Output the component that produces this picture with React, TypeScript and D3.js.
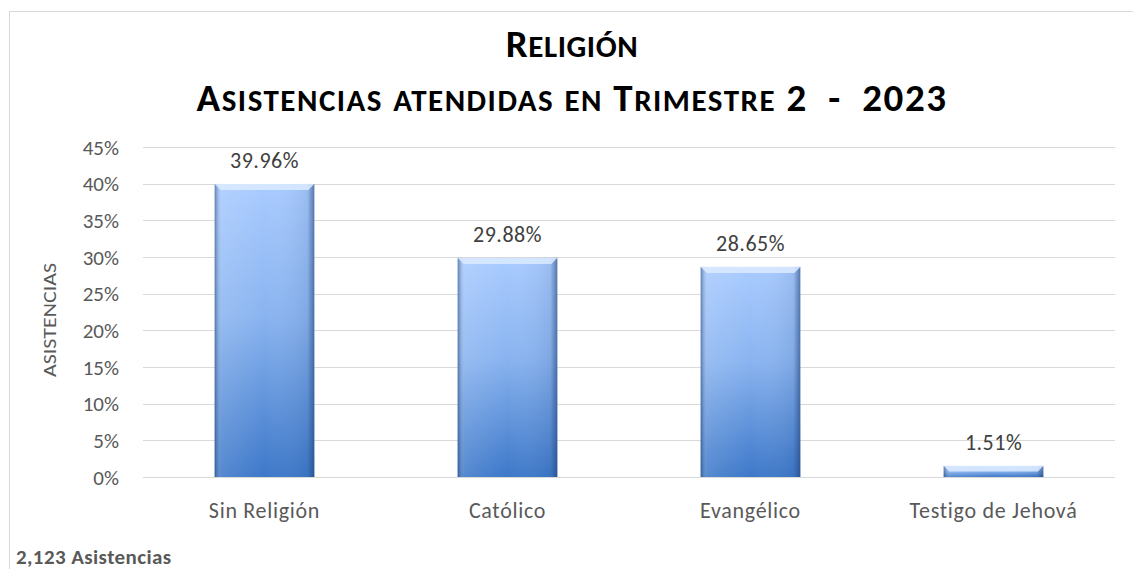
import * as d3 from 'd3';
import React, {useEffect, useRef} from 'react';

const categories: string[] = ['Sin Religión', 'Católico', 'Evangélico', 'Testigo de Jehová'];
const percentages: number[] = [39.96, 29.88, 28.65, 1.51];
const yTicks: number[] = [0, 5, 10, 15, 20, 25, 30, 35, 40, 45];
const titleLines: string[] = ['Religión', 'Asistencias atendidas en Trimestre 2  -  2023'];
const axisTitle = 'Asistencias';
const footnote = '2,123 Asistencias';

// split a string into runs of "big" (capitals, digits, punctuation) and "small" (lowercase) chars
const smallCapsRuns = (s: string) => {
  const runs: {text: string, small: boolean}[] = [];
  for (const ch of s) {
    const small = ch !== ch.toUpperCase();
    const last = runs[runs.length - 1];
    if (last && last.small === small) last.text += ch.toUpperCase();
    else runs.push({text: ch.toUpperCase(), small});
  }
  return runs;
};

const App: React.FC = () => {
  const chartRef = useRef<SVGSVGElement>(null);

  const initChart = () => {
    const width = 1133;
    const height = 569;
    const margin = {left: 143, right: 18, top: 147, bottom: 92};
    const font = "Carlito, Calibri, Lato, sans-serif";
    const svg = d3.select(chartRef.current);
    svg.selectAll('*').remove();

    svg.append('rect')
      .attr('x', 9.5).attr('y', 11.5)
      .attr('width', width).attr('height', height)
      .attr('fill', '#fff').attr('stroke', '#d9d9d9');

    const defs = svg.append('defs');
    const vg = defs.append('linearGradient').attr('id', 'barV')
      .attr('x1', 0).attr('y1', 0).attr('x2', 0).attr('y2', 1);
    vg.append('stop').attr('offset', '0%').attr('stop-color', '#a9cbff');
    vg.append('stop').attr('offset', '45%').attr('stop-color', '#8ab4f0');
    vg.append('stop').attr('offset', '100%').attr('stop-color', '#3d78c9');
    const hg = defs.append('linearGradient').attr('id', 'barH')
      .attr('x1', 0).attr('y1', 0).attr('x2', 1).attr('y2', 0);
    hg.append('stop').attr('offset', '0%').attr('stop-color', '#1f3f73').attr('stop-opacity', 0.55);
    hg.append('stop').attr('offset', '7%').attr('stop-color', '#ffffff').attr('stop-opacity', 0.12);
    hg.append('stop').attr('offset', '50%').attr('stop-color', '#ffffff').attr('stop-opacity', 0);
    hg.append('stop').attr('offset', '93%').attr('stop-color', '#1f3f73').attr('stop-opacity', 0.1);
    hg.append('stop').attr('offset', '100%').attr('stop-color', '#1f3f73').attr('stop-opacity', 0.6);

    const x = d3.scaleBand<string>()
      .domain(categories)
      .range([margin.left, width - margin.right])
      .paddingInner(0.59)
      .paddingOuter(0.295);

    const y = d3.scaleLinear()
      .domain([0, 45])
      .range([height - margin.bottom, margin.top]);

    // gridlines
    svg.append('g').selectAll('line')
      .data(yTicks)
      .enter()
      .append('line')
      .attr('x1', margin.left).attr('x2', width - margin.right)
      .attr('y1', d => Math.round(y(d)) + 0.5).attr('y2', d => Math.round(y(d)) + 0.5)
      .attr('stroke', '#d9d9d9').attr('stroke-width', 1);

    // y tick labels
    svg.append('g').selectAll('text')
      .data(yTicks)
      .enter()
      .append('text')
      .attr('x', 119).attr('y', d => y(d))
      .attr('dy', '0.36em')
      .attr('text-anchor', 'end')
      .attr('font-family', font).attr('font-size', 21)
      .attr('fill', '#595959')
      .text(d => `${d}%`);

    // axis title
    svg.append('text')
      .attr('transform', `translate(56, 320) rotate(-90)`)
      .attr('text-anchor', 'middle')
      .attr('font-family', font).attr('font-size', 19)
      .attr('textLength', 114).attr('lengthAdjust', 'spacingAndGlyphs')
      .attr('fill', '#595959')
      .text(axisTitle.toUpperCase());

    const bars = svg.append('g').selectAll('g')
      .data(categories)
      .enter()
      .append('g');

    const bw = x.bandwidth();
    bars.append('rect')
      .attr('x', d => x(d)!).attr('width', bw)
      .attr('y', (d, i) => y(percentages[i]))
      .attr('height', (d, i) => y(0) - y(percentages[i]))
      .attr('fill', 'url(#barV)');
    bars.append('rect')
      .attr('x', d => x(d)!).attr('width', bw)
      .attr('y', (d, i) => y(percentages[i]))
      .attr('height', (d, i) => y(0) - y(percentages[i]))
      .attr('fill', 'url(#barH)');
    // top bevel
    bars.append('path')
      .attr('d', (d, i) => {
        const x0 = x(d)!;
        const y0 = y(percentages[i]);
        const b = Math.min(6, (y(0) - y0) / 2);
        return `M${x0},${y0}L${x0 + bw},${y0}L${x0 + bw - b},${y0 + b}L${x0 + b},${y0 + b}Z`;
      })
      .attr('fill', '#dcebff').attr('opacity', 0.85);

    // value labels
    bars.append('text')
      .attr('x', d => x(d)! + bw / 2)
      .attr('y', (d, i) => y(percentages[i]) - 16)
      .attr('text-anchor', 'middle')
      .attr('font-family', font).attr('font-size', 22)
      .attr('letter-spacing', 0.5)
      .attr('fill', '#404040')
      .text((d, i) => `${percentages[i].toFixed(2)}%`);

    // category labels
    svg.append('g').selectAll('text')
      .data(categories)
      .enter()
      .append('text')
      .attr('x', d => x(d)! + bw / 2)
      .attr('y', height - margin.bottom + 41)
      .attr('text-anchor', 'middle')
      .attr('font-family', font).attr('font-size', 22)
      .attr('letter-spacing', 0.7)
      .attr('fill', '#595959')
      .text(d => d);

    // title (small caps built from two sizes)
    const titles = svg.append('g').selectAll('text')
      .data(titleLines)
      .enter()
      .append('text')
      .attr('x', 572)
      .attr('y', (d, i) => 57 + i * 54)
      .attr('text-anchor', 'middle')
      .attr('font-family', font).attr('font-weight', 'bold')
      .attr('letter-spacing', (d, i) => i === 0 ? 0.6 : 1.5)
      .style('white-space', 'pre')
      .attr('fill', '#000');
    titles.selectAll('tspan')
      .data(d => smallCapsRuns(d))
      .enter()
      .append('tspan')
      .attr('font-size', r => r.small ? 31 : 39)
      .text(r => r.text);

    svg.append('text')
      .attr('x', 16).attr('y', 564)
      .attr('font-family', font).attr('font-size', 21).attr('font-weight', 'bold')
      .attr('letter-spacing', 0.4)
      .attr('fill', '#595959')
      .text(footnote);
  };

  useEffect(() => {
    initChart();
  }, []);

  return (
    <svg ref={chartRef} width={1133} height={569}
      style={{position: 'absolute', left: 0, top: 0, background: '#fff'}}/>
  );
};

export default App;
